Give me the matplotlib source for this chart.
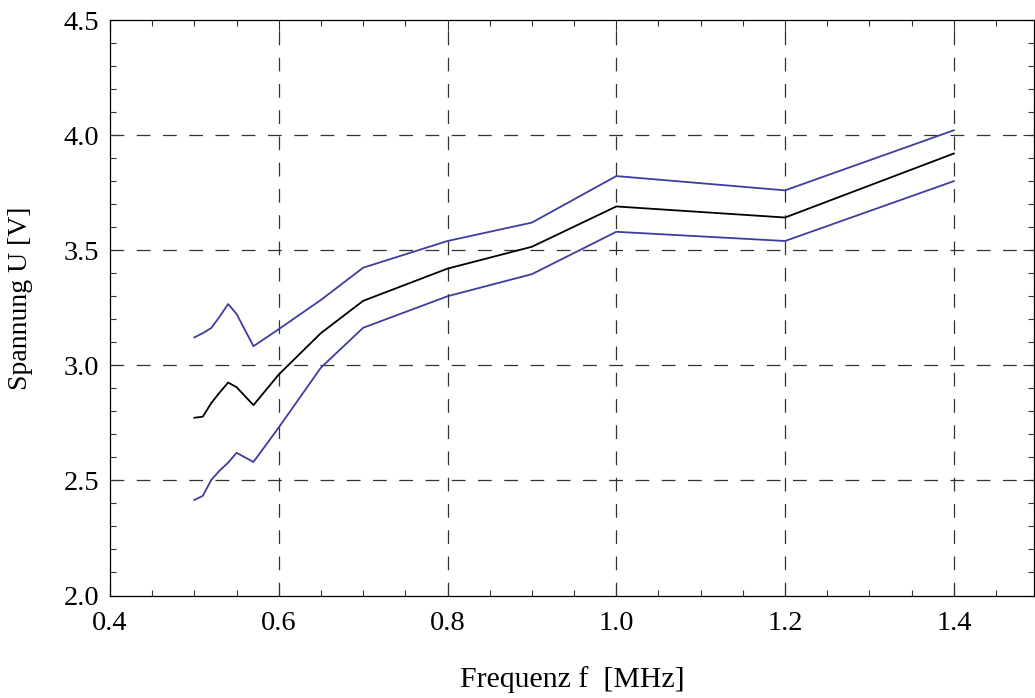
import numpy as np
import matplotlib.pyplot as plt
from matplotlib.ticker import MultipleLocator

freq = [0.50, 0.51, 0.52, 0.53, 0.54, 0.55, 0.57, 0.60, 0.65, 0.70, 0.80, 0.90, 1.00, 1.20, 1.40]
u_mittel = [2.772, 2.777, 2.836, 2.882, 2.925, 2.905, 2.827, 2.960, 3.140, 3.280, 3.420, 3.515, 3.690, 3.642, 3.920]
u_oben = [3.121, 3.140, 3.162, 3.212, 3.266, 3.223, 3.083, 3.157, 3.284, 3.424, 3.540, 3.620, 3.822, 3.760, 4.021]
u_unten = [2.415, 2.433, 2.502, 2.543, 2.577, 2.620, 2.580, 2.730, 2.990, 3.163, 3.300, 3.396, 3.580, 3.540, 3.800]

plt.rcParams['font.family'] = ['Liberation Serif', 'DejaVu Serif']

fig = plt.figure(figsize=(10.35, 6.98), dpi=100)
ax = fig.add_axes([110 / 1035, (698 - 595.5) / 698, 924 / 1035, 575.5 / 698])

blau = '#3d3d9e'
ax.plot(freq, u_oben, color=blau, lw=1.3)
ax.plot(freq, u_mittel, color='black', lw=1.3)
ax.plot(freq, u_unten, color=blau, lw=1.3)

ax.set_xlim(0.4, 1.495)
ax.set_ylim(2.0, 4.5)

ax.xaxis.set_major_locator(MultipleLocator(0.2))
ax.xaxis.set_minor_locator(MultipleLocator(0.05))
ax.yaxis.set_major_locator(MultipleLocator(0.5))
ax.yaxis.set_minor_locator(MultipleLocator(0.1))
ax.xaxis.set_major_formatter(plt.FuncFormatter(lambda v, p: f'{v:.1f}'))
ax.yaxis.set_major_formatter(plt.FuncFormatter(lambda v, p: f'{v:.1f}'))

ax.tick_params(which='both', direction='in', top=True, right=True, width=0.8, color='#333333')
ax.tick_params(which='major', length=8, labelsize=20.5)
ax.tick_params(axis='x', which='major', pad=11)
ax.tick_params(axis='y', which='major', pad=8)
ax.tick_params(which='minor', length=4.5)

for s in ax.spines.values():
    s.set_linewidth(0.9)

# gestricheltes Gitter an den Hauptmarken
for xv in [0.6, 0.8, 1.0, 1.2, 1.4]:
    ax.axvline(xv, color='#333333', lw=0.9, dashes=(11, 10), zorder=0)
for yv in [2.5, 3.0, 3.5, 4.0]:
    ax.axhline(yv, color='#333333', lw=0.9, dashes=(11, 10), zorder=0)

ax.set_xlabel('Frequenz f  [MHz]', fontsize=21.5, labelpad=22)
ax.set_ylabel('Spannung U [V]', fontsize=20)
ax.yaxis.set_label_coords(-0.083, 0.517)

fig.savefig('out.png', dpi=100)
